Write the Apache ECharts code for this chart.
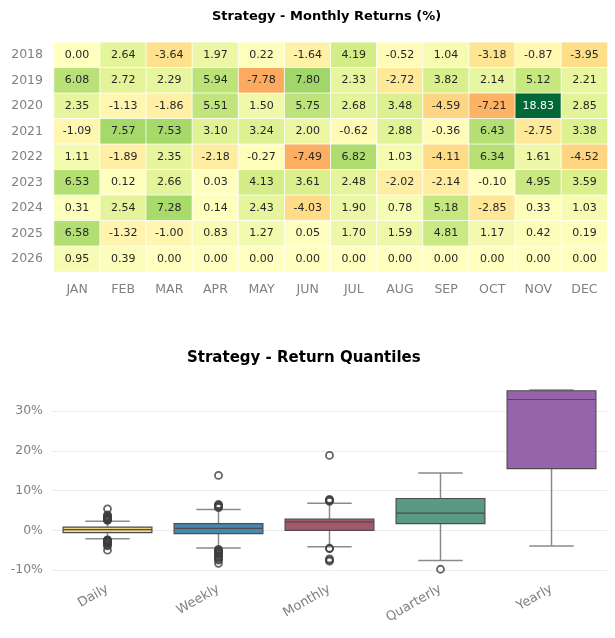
<!DOCTYPE html>
<html>
<head>
<meta charset="utf-8">
<script src="https://cdn.jsdelivr.net/npm/echarts@6/dist/echarts.min.js"></script>
<style>
html, body { margin: 0; padding: 0; background: #fff; }
#main_chart { width: 615px; height: 638px; }
</style>
</head>
<body>
<div id="main_chart"></div>
<script>
// 月度收益数据 (%)
const years = ['2018', '2019', '2020', '2021', '2022', '2023', '2024', '2025', '2026'];
const months = ['JAN', 'FEB', 'MAR', 'APR', 'MAY', 'JUN', 'JUL', 'AUG', 'SEP', 'OCT', 'NOV', 'DEC'];
const ret2018 = [0.00, 2.64, -3.64, 1.97, 0.22, -1.64, 4.19, -0.52, 1.04, -3.18, -0.87, -3.95];
const ret2019 = [6.08, 2.72, 2.29, 5.94, -7.78, 7.80, 2.33, -2.72, 3.82, 2.14, 5.12, 2.21];
const ret2020 = [2.35, -1.13, -1.86, 5.51, 1.50, 5.75, 2.68, 3.48, -4.59, -7.21, 18.83, 2.85];
const ret2021 = [-1.09, 7.57, 7.53, 3.10, 3.24, 2.00, -0.62, 2.88, -0.36, 6.43, -2.75, 3.38];
const ret2022 = [1.11, -1.89, 2.35, -2.18, -0.27, -7.49, 6.82, 1.03, -4.11, 6.34, 1.61, -4.52];
const ret2023 = [6.53, 0.12, 2.66, 0.03, 4.13, 3.61, 2.48, -2.02, -2.14, -0.10, 4.95, 3.59];
const ret2024 = [0.31, 2.54, 7.28, 0.14, 2.43, -4.03, 1.90, 0.78, 5.18, -2.85, 0.33, 1.03];
const ret2025 = [6.58, -1.32, -1.00, 0.83, 1.27, 0.05, 1.70, 1.59, 4.81, 1.17, 0.42, 0.19];
const ret2026 = [0.95, 0.39, 0.00, 0.00, 0.00, 0.00, 0.00, 0.00, 0.00, 0.00, 0.00, 0.00];
const yearRows = [ret2018, ret2019, ret2020, ret2021, ret2022, ret2023, ret2024, ret2025, ret2026];

// 收益分位数 (%)：[min, Q1, median, Q3, max]
const quantileCats = ['Daily', 'Weekly', 'Monthly', 'Quarterly', 'Yearly'];
const dailyBox = [-2.1, -0.6, 0.15, 0.8, 2.3];
const weeklyBox = [-4.45, -0.85, 0.5, 1.7, 5.2];
const monthlyBox = [-4.11, 0.0, 2.1, 2.8, 6.82];
const quarterlyBox = [-7.6, 1.7, 4.3, 8.0, 14.4];
const yearlyBox = [-3.95, 15.5, 32.9, 35.1, 35.3];
const dailyOutliers = [2.5, 2.6, 2.7, 2.8, 2.9, 3.0, 3.1, 3.2, 3.4, 3.6, 3.9, 5.4,
    -2.4, -2.5, -2.6, -2.7, -2.8, -2.9, -3.0, -3.2, -3.4, -3.7, -3.9, -5.0];
const weeklyOutliers = [5.7, 5.9, 6.1, 6.3, 6.5, 13.8,
    -4.8, -5.0, -5.2, -5.4, -5.6, -5.8, -6.0, -6.3, -6.6, -6.9, -7.2, -7.5, -8.3];
const monthlyOutliers = [7.28, 7.53, 7.57, 7.80, 18.83, -4.52, -4.59, -7.21, -7.49, -7.78];
const quarterlyOutliers = [-9.8];
const yearlyOutliers = [];
const yTicks = [-10, 0, 10, 20, 30];

const boxColors = ['#edd489', '#4688af', '#a2586a', '#5a9983', '#9664aa'];
const font = 'DejaVu Sans';

const heatData = [];
yearRows.forEach(function (row, yi) {
    row.forEach(function (v, mi) {
        const item = { value: [mi, yi, v] };
        if (v > 12) item.label = { color: '#fff' };
        heatData.push(item);
    });
});

const boxData = [dailyBox, weeklyBox, monthlyBox, quarterlyBox, yearlyBox].map(function (b, i) {
    return [i].concat(b);
});

const outlierData = [];
[dailyOutliers, weeklyOutliers, monthlyOutliers, quarterlyOutliers, yearlyOutliers].forEach(function (arr, i) {
    arr.forEach(function (v) { outlierData.push([i, v]); });
});

const myChart = echarts.init(document.getElementById('main_chart'));

var option = {
    animation: false,
    textStyle: { fontFamily: font },
    title: [
        {
            text: 'Strategy - Monthly Returns (%)',
            left: 212, top: 10, padding: 0,
            textStyle: { fontFamily: font, fontSize: 13, fontWeight: 'bold', color: '#000' }
        },
        {
            text: 'Strategy - Return Quantiles',
            left: 187, top: 351, padding: 0,
            textStyle: { fontFamily: font, fontSize: 15, fontWeight: 'bold', color: '#000' }
        }
    ],
    grid: [
        { left: 54, right: 7.5, top: 42.3, height: 229.5 },
        { left: 52, right: 8, top: 380, height: 198 }
    ],
    visualMap: {
        show: false,
        seriesIndex: 0,
        dimension: 2,
        min: -18.83,
        max: 18.83,
        inRange: {
            color: ['#a50026', '#d73027', '#f46d43', '#fdae61', '#fee08b', '#ffffbf',
                '#d9ef8b', '#a6d96a', '#66bd63', '#1a9850', '#006837']
        }
    },
    xAxis: [
        {
            gridIndex: 0, type: 'category', data: months,
            axisLine: { show: false }, axisTick: { show: false }, splitLine: { show: false },
            axisLabel: { color: '#808080', fontSize: 12.5, margin: 11, fontFamily: font }
        },
        {
            gridIndex: 1, type: 'category', data: quantileCats,
            axisLine: { show: false }, axisTick: { show: false },
            axisLabel: { color: '#808080', fontSize: 13, margin: 10, rotate: 30, fontFamily: font }
        }
    ],
    yAxis: [
        {
            gridIndex: 0, type: 'category', data: years, inverse: true,
            axisLine: { show: false }, axisTick: { show: false }, splitLine: { show: false },
            axisLabel: { color: '#808080', fontSize: 12.5, margin: 11, fontFamily: font }
        },
        {
            gridIndex: 1, type: 'value', min: -12, max: 37.8,
            axisLine: { show: false },
            axisTick: { show: false, customValues: yTicks },
            splitLine: { show: true, lineStyle: { color: '#ebebeb', width: 1 } },
            axisLabel: {
                customValues: yTicks,
                color: '#808080', fontSize: 12.5, margin: 9, fontFamily: font,
                formatter: function (v) { return v + '%'; }
            }
        }
    ],
    series: [
        {
            type: 'heatmap',
            xAxisIndex: 0, yAxisIndex: 0,
            data: heatData,
            itemStyle: { borderColor: '#fff', borderWidth: 0.8 },
            label: {
                show: true, fontSize: 11, color: '#262626', fontFamily: font,
                formatter: function (p) { return p.value[2].toFixed(2); }
            }
        },
        {
            type: 'custom',
            xAxisIndex: 1, yAxisIndex: 1,
            data: boxData,
            encode: { x: 0, y: [1, 2, 3, 4, 5] },
            renderItem: function (params, api) {
                const i = api.value(0);
                const lo = api.coord([i, api.value(1)]);
                const q1 = api.coord([i, api.value(2)]);
                const med = api.coord([i, api.value(3)]);
                const q3 = api.coord([i, api.value(4)]);
                const hi = api.coord([i, api.value(5)]);
                const band = api.size([1, 0])[0];
                const bw = band * 0.8;
                const cw = bw / 2;
                const x = lo[0];
                const whisker = { stroke: '#8a8a8a', lineWidth: 1.5 };
                const edge = '#4d4d4d';
                return {
                    type: 'group',
                    children: [
                        { type: 'line', shape: { x1: x, y1: hi[1], x2: x, y2: q3[1] }, style: whisker },
                        { type: 'line', shape: { x1: x, y1: q1[1], x2: x, y2: lo[1] }, style: whisker },
                        { type: 'line', shape: { x1: x - cw / 2, y1: hi[1], x2: x + cw / 2, y2: hi[1] }, style: whisker },
                        { type: 'line', shape: { x1: x - cw / 2, y1: lo[1], x2: x + cw / 2, y2: lo[1] }, style: whisker },
                        {
                            type: 'rect',
                            shape: { x: x - bw / 2, y: q3[1], width: bw, height: q1[1] - q3[1] },
                            style: { fill: boxColors[i], stroke: edge, lineWidth: 1.2 }
                        },
                        { type: 'line', shape: { x1: x - bw / 2, y1: med[1], x2: x + bw / 2, y2: med[1] }, style: { stroke: edge, lineWidth: 1.2 } }
                    ]
                };
            },
            z: 2
        },
        {
            type: 'scatter',
            xAxisIndex: 1, yAxisIndex: 1,
            data: outlierData,
            symbol: 'circle',
            symbolSize: 7,
            itemStyle: { color: 'rgba(255,255,255,0)', borderColor: '#3d3d3d', borderWidth: 1.8 },
            z: 3
        }
    ]
};

myChart.setOption(option);
window.onresize = function () {
    myChart.resize();
};
</script>
</body>
</html>
